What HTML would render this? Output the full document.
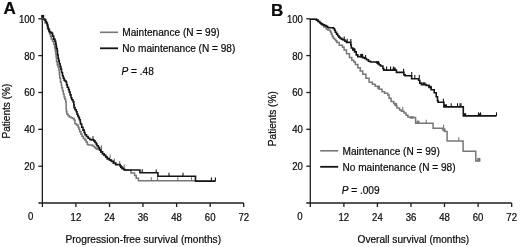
<!DOCTYPE html>
<html><head><meta charset="utf-8"><style>
html,body{margin:0;padding:0;background:#fff;}
body{width:520px;height:247px;overflow:hidden;}
svg{display:block;filter:grayscale(100%);}
text{font-family:"Liberation Sans",sans-serif;font-size:10.1px;fill:#0a0a0a;stroke:#0a0a0a;stroke-width:0.2px;}
</style></head><body>
<svg width="520" height="247" viewBox="0 0 520 247">
<rect width="520" height="247" fill="#fff"/>
<line x1="42.35" y1="18.8" x2="42.35" y2="203.0" stroke="#1e1e1e" stroke-width="1.3"/><line x1="38.35" y1="203.0" x2="243.7" y2="203.0" stroke="#1e1e1e" stroke-width="1.3"/><line x1="38.35" y1="18.8" x2="42.35" y2="18.8" stroke="#1e1e1e" stroke-width="1.3"/><text transform="translate(34.95,22.80) scale(0.95,1)" text-anchor="end">100</text><line x1="38.35" y1="55.6" x2="42.35" y2="55.6" stroke="#1e1e1e" stroke-width="1.3"/><text transform="translate(34.95,59.64) scale(0.95,1)" text-anchor="end">80</text><line x1="38.35" y1="92.5" x2="42.35" y2="92.5" stroke="#1e1e1e" stroke-width="1.3"/><text transform="translate(34.95,96.48) scale(0.95,1)" text-anchor="end">60</text><line x1="38.35" y1="129.3" x2="42.35" y2="129.3" stroke="#1e1e1e" stroke-width="1.3"/><text transform="translate(34.95,133.32) scale(0.95,1)" text-anchor="end">40</text><line x1="38.35" y1="166.2" x2="42.35" y2="166.2" stroke="#1e1e1e" stroke-width="1.3"/><text transform="translate(34.95,170.16) scale(0.95,1)" text-anchor="end">20</text><line x1="42.4" y1="203.0" x2="42.4" y2="207.0" stroke="#1e1e1e" stroke-width="1.3"/><line x1="75.9" y1="203.0" x2="75.9" y2="207.0" stroke="#1e1e1e" stroke-width="1.3"/><text transform="translate(75.91,220.5) scale(0.95,1)" text-anchor="middle">12</text><line x1="109.5" y1="203.0" x2="109.5" y2="207.0" stroke="#1e1e1e" stroke-width="1.3"/><text transform="translate(109.47,220.5) scale(0.95,1)" text-anchor="middle">24</text><line x1="143.0" y1="203.0" x2="143.0" y2="207.0" stroke="#1e1e1e" stroke-width="1.3"/><text transform="translate(143.03,220.5) scale(0.95,1)" text-anchor="middle">36</text><line x1="176.6" y1="203.0" x2="176.6" y2="207.0" stroke="#1e1e1e" stroke-width="1.3"/><text transform="translate(176.59,220.5) scale(0.95,1)" text-anchor="middle">48</text><line x1="210.2" y1="203.0" x2="210.2" y2="207.0" stroke="#1e1e1e" stroke-width="1.3"/><text transform="translate(210.15,220.5) scale(0.95,1)" text-anchor="middle">60</text><line x1="243.7" y1="203.0" x2="243.7" y2="207.0" stroke="#1e1e1e" stroke-width="1.3"/><text transform="translate(243.71,220.5) scale(0.95,1)" text-anchor="middle">72</text><text transform="translate(30.55,220.1) scale(0.95,1)" text-anchor="middle">0</text><line x1="310.3" y1="18.8" x2="310.3" y2="203.0" stroke="#1e1e1e" stroke-width="1.3"/><line x1="306.3" y1="203.0" x2="511.7" y2="203.0" stroke="#1e1e1e" stroke-width="1.3"/><line x1="306.3" y1="18.8" x2="310.3" y2="18.8" stroke="#1e1e1e" stroke-width="1.3"/><text transform="translate(302.90,22.80) scale(0.95,1)" text-anchor="end">100</text><line x1="306.3" y1="55.6" x2="310.3" y2="55.6" stroke="#1e1e1e" stroke-width="1.3"/><text transform="translate(302.90,59.64) scale(0.95,1)" text-anchor="end">80</text><line x1="306.3" y1="92.5" x2="310.3" y2="92.5" stroke="#1e1e1e" stroke-width="1.3"/><text transform="translate(302.90,96.48) scale(0.95,1)" text-anchor="end">60</text><line x1="306.3" y1="129.3" x2="310.3" y2="129.3" stroke="#1e1e1e" stroke-width="1.3"/><text transform="translate(302.90,133.32) scale(0.95,1)" text-anchor="end">40</text><line x1="306.3" y1="166.2" x2="310.3" y2="166.2" stroke="#1e1e1e" stroke-width="1.3"/><text transform="translate(302.90,170.16) scale(0.95,1)" text-anchor="end">20</text><line x1="310.3" y1="203.0" x2="310.3" y2="207.0" stroke="#1e1e1e" stroke-width="1.3"/><line x1="343.9" y1="203.0" x2="343.9" y2="207.0" stroke="#1e1e1e" stroke-width="1.3"/><text transform="translate(343.86,220.5) scale(0.95,1)" text-anchor="middle">12</text><line x1="377.4" y1="203.0" x2="377.4" y2="207.0" stroke="#1e1e1e" stroke-width="1.3"/><text transform="translate(377.42,220.5) scale(0.95,1)" text-anchor="middle">24</text><line x1="411.0" y1="203.0" x2="411.0" y2="207.0" stroke="#1e1e1e" stroke-width="1.3"/><text transform="translate(410.98,220.5) scale(0.95,1)" text-anchor="middle">36</text><line x1="444.5" y1="203.0" x2="444.5" y2="207.0" stroke="#1e1e1e" stroke-width="1.3"/><text transform="translate(444.54,220.5) scale(0.95,1)" text-anchor="middle">48</text><line x1="478.1" y1="203.0" x2="478.1" y2="207.0" stroke="#1e1e1e" stroke-width="1.3"/><text transform="translate(478.10,220.5) scale(0.95,1)" text-anchor="middle">60</text><line x1="511.7" y1="203.0" x2="511.7" y2="207.0" stroke="#1e1e1e" stroke-width="1.3"/><text transform="translate(511.66,220.5) scale(0.95,1)" text-anchor="middle">72</text><text transform="translate(300.00,220.1) scale(0.95,1)" text-anchor="middle">0</text><text x="3.6" y="14.1" style="font-weight:bold;font-size:17px">A</text><text x="270.9" y="15.7" style="font-weight:bold;font-size:17px">B</text><text transform="translate(9.6,138.6) rotate(-90)">Patients (%)</text><text transform="translate(275.6,146.2) rotate(-90)">Patients (%)</text><text x="65.4" y="242.8" style="font-size:10.2px">Progression-free survival (months)</text><text x="357.6" y="242.6">Overall survival (months)</text><line x1="100.0" y1="32.3" x2="118.0" y2="32.3" stroke="#777777" stroke-width="1.6"/><line x1="100.0" y1="48.3" x2="118.0" y2="48.3" stroke="#141414" stroke-width="1.8"/><text x="122.3" y="36.0">Maintenance (N = 99)</text><text x="122.3" y="52.199999999999996">No maintenance (N = 98)</text><text x="121.5" y="75.0"><tspan font-style="italic">P</tspan> = .48</text><line x1="320.2" y1="150.8" x2="338.2" y2="150.8" stroke="#777777" stroke-width="1.6"/><line x1="320.2" y1="166.8" x2="338.2" y2="166.8" stroke="#141414" stroke-width="1.8"/><text x="342.5" y="154.5">Maintenance (N = 99)</text><text x="342.5" y="170.70000000000002">No maintenance (N = 98)</text><text x="341.7" y="193.5"><tspan font-style="italic">P</tspan> = .009</text><path d="M42.30,18.80V19.65H45.00V20.50V22.75H47.50V25.00V28.90H49.60V32.80V34.00H50.50V35.20V36.45H51.30V37.70V38.90H52.50V40.10V41.30H53.70V42.50V44.25H54.60V46.00V47.75H55.30V49.50V50.95H55.70V52.40V53.65H56.10V54.90V57.30H56.50V59.70V61.75H57.30V63.80V65.00H58.10V66.20V67.35H58.90V68.50V70.25H59.30V72.00V74.05H59.70V76.10V78.10H60.50V80.10V82.15H61.30V84.20V85.35H61.70V86.50V87.85H62.50V89.20V90.85H63.30V92.50V94.10H64.10V95.70V96.90H64.90V98.10V99.35H65.70V100.60V101.80H66.10V103.00V105.10H66.20V107.20V108.85H66.40V110.50V111.70H66.90V112.90V113.90H68.10V114.90V115.75H69.30V116.60V117.00H70.90V117.40V117.80H72.50V118.20V118.60H74.10V119.00V120.00H74.90V121.00V122.10H75.00V123.20V123.85H76.50V124.50V125.10H78.10V125.70V126.90H78.90V128.10V129.30H79.70V130.50V131.75H80.90V133.00V134.15H82.10V135.30V136.40H83.40V137.50V138.40H84.90V139.30V140.10H86.10V140.90V142.10H87.30V143.30V144.15H88.10V145.00H92.10V145.40H93.40V145.80V146.40H94.60V147.00V147.40H95.80V147.80V148.40H97.00V149.00V149.15H99.60V149.30V150.25H100.90V151.20V152.20H102.50V153.20V154.00H104.10V154.80V155.60H105.70V156.40V157.25H107.30V158.10V158.90H109.40V159.70V160.30H111.40V160.90V161.50H113.40V162.10V163.25H115.60V164.40V164.80H120.10V165.20V166.00H120.90V166.80V167.40H122.10V168.00V168.65H123.70V169.30V169.80H125.00V170.30H131.00V173.00H134.60V175.40H136.20V178.20H138.40V180.80H215.00" fill="none" stroke="#777777" stroke-width="1.5" stroke-linejoin="miter"/><line x1="101.5" y1="149.0" x2="101.5" y2="145.4" stroke="#777777" stroke-width="1.1"/><line x1="110.2" y1="158.0" x2="110.2" y2="154.4" stroke="#777777" stroke-width="1.1"/><line x1="114.4" y1="162.2" x2="114.4" y2="158.6" stroke="#777777" stroke-width="1.1"/><line x1="119.7" y1="164.5" x2="119.7" y2="160.9" stroke="#777777" stroke-width="1.1"/><line x1="124.1" y1="168.0" x2="124.1" y2="164.4" stroke="#777777" stroke-width="1.1"/><line x1="151.3" y1="180.8" x2="151.3" y2="177.2" stroke="#777777" stroke-width="1.1"/><line x1="157.5" y1="180.8" x2="157.5" y2="177.2" stroke="#777777" stroke-width="1.1"/><line x1="177.8" y1="180.8" x2="177.8" y2="177.2" stroke="#777777" stroke-width="1.1"/><line x1="191.5" y1="180.8" x2="191.5" y2="177.2" stroke="#777777" stroke-width="1.1"/><path d="M42.30,18.80V19.00H44.90V19.20V20.05H45.80V20.90V21.70H46.50V22.50V23.30H47.10V24.10V24.90H47.70V25.70V26.50H48.10V27.30V28.55H48.70V29.80V30.60H49.30V31.40V31.80H50.10V32.20V32.40H51.70V32.60V33.40H52.60V34.20V36.15H53.70V38.10V39.10H54.90V40.10V41.30H55.70V42.50V43.75H56.10V45.00V46.20H56.50V47.40V48.60H57.20V49.80V51.05H57.50V52.30V54.80H58.10V57.30V58.50H58.70V59.70V60.90H59.30V62.10V63.75H60.10V65.40V66.60H60.90V67.80V69.15H61.50V70.50V72.50H62.50V74.50V75.70H63.30V76.90V78.10H64.10V79.30V80.15H64.90V81.00H66.10V82.20H66.60V83.40V84.70H67.30V86.00V87.20H68.50V88.40V89.65H69.30V90.90V92.10H70.10V93.30V94.90H71.00V96.50V97.75H71.80V99.00V99.80H73.00V100.60V101.80H73.80V103.00V104.70H74.10V106.40V107.65H75.00V108.90V109.70H76.20V110.50V111.70H77.00V112.90V114.10H77.80V115.30V115.95H78.60V116.60V117.60H79.40V118.60V119.80H80.20V121.00V121.70H80.50V122.40V124.05H81.70V125.70V127.30H83.00V128.90V130.10H84.20V131.30V132.55H85.00V133.80V134.70H86.50V135.60V136.45H88.10V137.30V138.30H89.70V139.30V139.50H91.30V139.70V139.90H93.80V140.10V140.90H95.00V141.70V142.50H96.20V143.30V144.15H97.00V145.00V145.70H98.40V146.40V147.65H99.60V148.90V149.90H100.90V150.90V151.90H102.50V152.90V153.70H104.10V154.50V155.30H105.70V156.10V156.95H107.30V157.80V158.60H109.40V159.40V160.00H111.40V160.60V161.20H113.40V161.80V162.95H115.60V164.10V164.50H120.10V164.90V165.70H120.90V166.50V167.10H122.10V167.70V168.35H123.70V169.00V169.50H125.00V170.00H139.90V172.80H157.90V176.30H195.50V181.20H215.40" fill="none" stroke="#141414" stroke-width="1.6" stroke-linejoin="miter"/><line x1="93.0" y1="139.9" x2="93.0" y2="136.3" stroke="#141414" stroke-width="1.1"/><line x1="142.2" y1="172.8" x2="142.2" y2="169.2" stroke="#141414" stroke-width="1.1"/><line x1="156.2" y1="173.0" x2="156.2" y2="169.4" stroke="#141414" stroke-width="1.1"/><line x1="169.0" y1="176.3" x2="169.0" y2="172.7" stroke="#141414" stroke-width="1.1"/><line x1="183.0" y1="176.3" x2="183.0" y2="172.7" stroke="#141414" stroke-width="1.1"/><line x1="211.4" y1="181.2" x2="211.4" y2="177.6" stroke="#141414" stroke-width="1.1"/><line x1="215.4" y1="181.2" x2="215.4" y2="177.6" stroke="#141414" stroke-width="1.1"/><path d="M310.50,19.10V19.20H316.40V19.30V20.10H318.00V20.90V21.50H319.70V22.10V22.70H320.90V23.30V23.80H322.10V24.30V25.20H323.70V26.10V27.10H326.10V28.10V28.95H327.80V29.80V30.00H329.80V30.20V30.80H330.60V31.40V32.30H331.40V33.20V34.25H332.20V35.30V36.35H333.20V37.40V38.20H334.50V39.00V39.60H335.70V40.20V40.70H336.90V41.20V42.60H339.20V44.00V45.25H342.50V46.50V47.30H344.10V48.10V50.10H346.50V52.10V53.75H349.40V55.40V57.40H351.80V59.40V60.30H353.80V61.20V62.00H355.40V62.80V64.45H357.80V66.10V67.70H360.20V69.30V70.90H362.70V72.50V74.15H365.90V75.80V78.30H369.10V80.80V82.15H372.40V83.50V84.25H375.10V85.00V86.30H379.10V87.60V89.30H382.00V91.00V91.75H384.60V92.50V93.15H387.80V93.80V95.10H389.10V96.40V98.35H391.10V100.30V101.60H393.70V102.90V103.55H395.60V104.20V105.50H396.90V106.80V108.10H399.50V109.40V110.05H401.40V110.70V111.35H404.00V112.00V112.95H406.00V113.90V115.20H407.90V116.50V117.05H409.90V117.60H415.60V123.30H433.10V128.30H442.60V129.35H443.60V130.40V130.75H445.10V131.10V131.60H447.10V132.10V140.90H463.10V151.20H475.80V161.10H480.20" fill="none" stroke="#777777" stroke-width="1.5" stroke-linejoin="miter"/><line x1="402.8" y1="110.7" x2="402.8" y2="107.1" stroke="#777777" stroke-width="1.1"/><line x1="426.2" y1="123.3" x2="426.2" y2="119.7" stroke="#777777" stroke-width="1.1"/><line x1="443.6" y1="128.3" x2="443.6" y2="124.7" stroke="#777777" stroke-width="1.1"/><line x1="458.8" y1="140.9" x2="458.8" y2="137.3" stroke="#777777" stroke-width="1.1"/><path d="M310.50,19.10V19.20H316.40V19.30V20.10H318.00V20.90V21.50H319.70V22.10V22.70H320.90V23.30V23.70H322.10V24.10V24.30H323.30V24.50V24.90H324.50V25.30V25.50H326.10V25.70V26.30H327.40V26.90V27.30H328.60V27.70V27.75H330.20V27.80H333.30V28.55H334.50V29.30V30.30H335.30V31.30V32.30H336.50V33.30V34.10H337.70V34.90V35.75H338.90V36.60V37.20H340.10V37.80V38.40H341.70V39.00V39.30H343.00V39.60V40.00H345.00V40.40V41.30H346.50V42.20V42.40H350.80V42.60V45.05H351.30V47.50V47.95H352.90V48.40V49.55H354.60V50.70V51.90H356.20V53.10V54.85H357.80V56.60H360.90V56.85H362.60V57.10V57.60H364.60V58.10V58.55H366.50V59.00V59.75H368.40V60.50V61.25H370.40V62.00H376.20V62.30H377.70V62.60V63.60H379.10V64.60V64.80H380.50V65.00V65.95H382.90V66.90V68.50H383.70V70.10H396.40V72.40H403.90V74.10V74.90H405.10V75.70H411.60V78.70H418.60V80.20H419.80V81.70V83.15H421.40V84.60H426.10V85.35H429.10V86.10V87.15H431.10V88.20V89.70H434.20V91.20V92.70H436.20V94.20V96.80H437.50V99.40V100.85H438.10V102.30H443.90V106.90H463.30V115.90H496.50" fill="none" stroke="#141414" stroke-width="1.6" stroke-linejoin="miter"/><line x1="344.2" y1="40.2" x2="344.2" y2="36.6" stroke="#141414" stroke-width="1.1"/><line x1="347.2" y1="42.4" x2="347.2" y2="38.8" stroke="#141414" stroke-width="1.1"/><line x1="350.8" y1="42.6" x2="350.8" y2="39.0" stroke="#141414" stroke-width="1.1"/><line x1="365.6" y1="58.6" x2="365.6" y2="55.0" stroke="#141414" stroke-width="1.1"/><line x1="386.6" y1="70.1" x2="386.6" y2="66.5" stroke="#141414" stroke-width="1.1"/><line x1="390.6" y1="70.1" x2="390.6" y2="66.5" stroke="#141414" stroke-width="1.1"/><line x1="393.6" y1="70.1" x2="393.6" y2="66.5" stroke="#141414" stroke-width="1.1"/><line x1="403.6" y1="72.4" x2="403.6" y2="68.8" stroke="#141414" stroke-width="1.1"/><line x1="411.7" y1="75.7" x2="411.7" y2="72.1" stroke="#141414" stroke-width="1.1"/><line x1="414.8" y1="78.7" x2="414.8" y2="75.1" stroke="#141414" stroke-width="1.1"/><line x1="419.3" y1="78.7" x2="419.3" y2="75.1" stroke="#141414" stroke-width="1.1"/><line x1="443.4" y1="102.3" x2="443.4" y2="98.7" stroke="#141414" stroke-width="1.1"/><line x1="451.2" y1="106.9" x2="451.2" y2="103.3" stroke="#141414" stroke-width="1.1"/><line x1="457.5" y1="106.9" x2="457.5" y2="103.3" stroke="#141414" stroke-width="1.1"/><line x1="460.0" y1="106.9" x2="460.0" y2="103.3" stroke="#141414" stroke-width="1.1"/><line x1="461.0" y1="106.9" x2="461.0" y2="103.3" stroke="#141414" stroke-width="1.1"/><line x1="478.5" y1="115.9" x2="478.5" y2="112.3" stroke="#141414" stroke-width="1.1"/><line x1="480.5" y1="115.9" x2="480.5" y2="112.3" stroke="#141414" stroke-width="1.1"/><line x1="496.5" y1="115.9" x2="496.5" y2="112.3" stroke="#141414" stroke-width="1.1"/><rect x="352.3" y="48.3" width="3.0" height="2.6" fill="#141414"/><rect x="360.2" y="53.9" width="3.0" height="2.6" fill="#141414"/><rect x="376.2" y="61.1" width="3.0" height="2.6" fill="#141414"/><rect x="422.5" y="82.3" width="3.0" height="2.6" fill="#141414"/><rect x="428.6" y="85.8" width="3.0" height="2.6" fill="#141414"/><rect x="392.7" y="67.5" width="3.0" height="2.6" fill="#141414"/><rect x="444.0" y="104.3" width="3.0" height="2.6" fill="#141414"/><rect x="463.2" y="113.2" width="3.0" height="2.6" fill="#141414"/><rect x="478.2" y="113.5" width="3.0" height="2.6" fill="#141414"/><rect x="41.2" y="14.9" width="3.0" height="3.0" fill="#141414"/><rect x="377.1" y="86.2" width="3.0" height="2.6" fill="#777777"/><rect x="394.1" y="103.1" width="3.0" height="2.6" fill="#777777"/><rect x="410.5" y="116.1" width="3.0" height="2.6" fill="#777777"/><rect x="416.5" y="120.6" width="3.0" height="2.6" fill="#777777"/><rect x="442.5" y="128.3" width="3.0" height="2.6" fill="#777777"/><rect x="477.2" y="157.9" width="3.2" height="3.4" fill="#777777"/>
</svg>
</body></html>
